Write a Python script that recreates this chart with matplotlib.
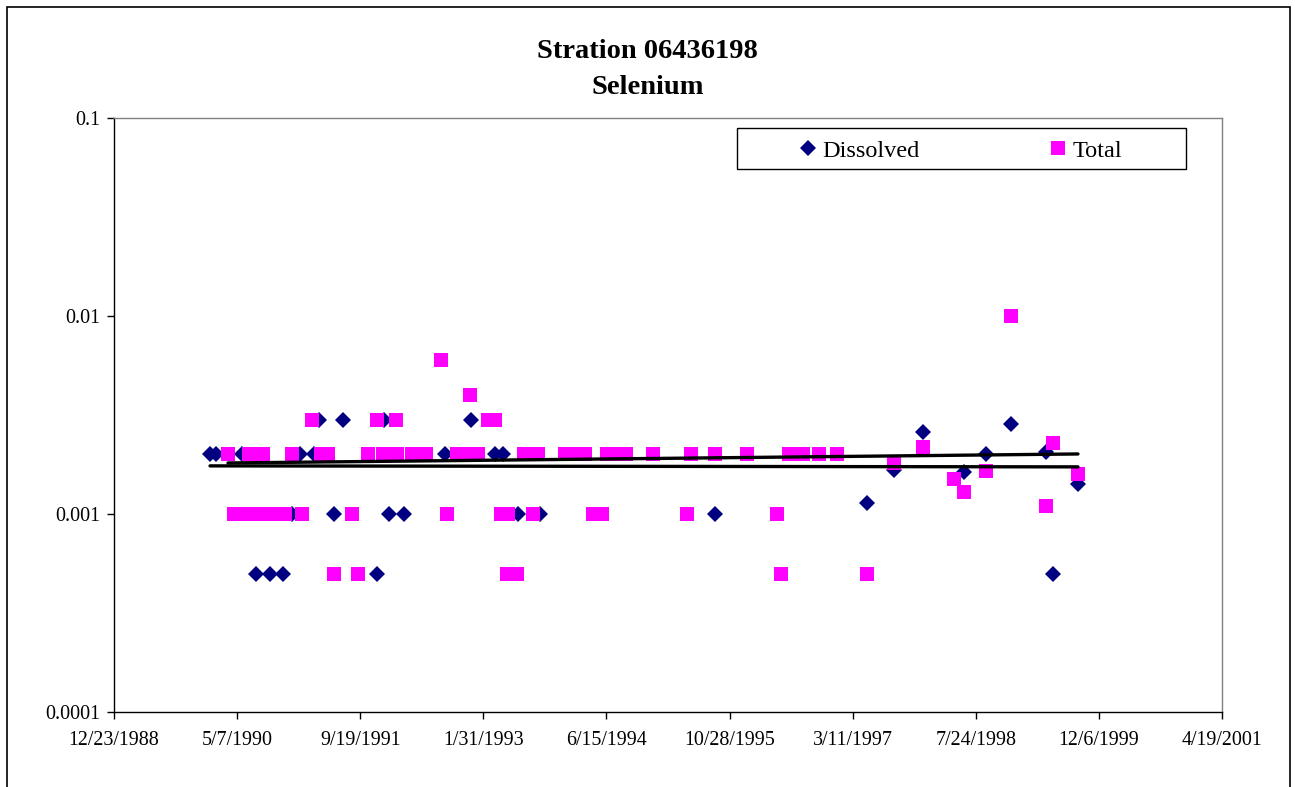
import matplotlib
matplotlib.use("Agg")
import matplotlib.pyplot as plt
import matplotlib.dates as mdates
from matplotlib.ticker import FixedLocator, FuncFormatter, NullLocator
from matplotlib.patches import Rectangle
from datetime import date, timedelta

# ---- selenium concentrations, station 06436198 ----
dissolved_dates = [
    "1990-01-17", "1990-02-10", "1990-05-27", "1990-07-23", "1990-09-18",
    "1990-11-09", "1990-12-16", "1991-01-17", "1991-03-15", "1991-04-05",
    "1991-06-04", "1991-07-11", "1991-11-26", "1991-12-25", "1992-01-14",
    "1992-03-15", "1992-08-28", "1992-12-12", "1993-03-19", "1993-04-21",
    "1993-06-21", "1993-09-18", "1995-08-30", "1997-05-08", "1997-08-26",
    "1997-12-22", "1998-06-06", "1998-09-03", "1998-12-14", "1999-05-05",
    "1999-06-03", "1999-09-12",
]
dissolved_values = [
    0.002, 0.002, 0.002, 0.0005, 0.0005,
    0.0005, 0.001, 0.002, 0.002, 0.003,
    0.001, 0.003, 0.0005, 0.003, 0.001,
    0.001, 0.002, 0.003, 0.002, 0.002,
    0.001, 0.001, 0.001, 0.00114, 0.00167,
    0.0026, 0.00163, 0.002, 0.00285, 0.00206,
    0.0005, 0.00142,
]

total_dates = [
    "1990-03-31", "1990-04-24", "1990-06-16", "1990-06-24", "1990-08-08",
    "1990-08-20", "1990-09-26", "1990-11-17", "1990-12-16", "1991-01-25",
    "1991-03-07", "1991-04-13", "1991-05-11", "1991-06-04", "1991-08-16",
    "1991-09-10", "1991-10-21", "1991-11-26", "1991-12-21", "1992-02-11",
    "1992-02-15", "1992-04-16", "1992-06-12", "1992-08-12", "1992-09-05",
    "1992-10-16", "1992-11-30", "1992-12-08", "1993-01-09", "1993-02-19",
    "1993-03-19", "1993-04-13", "1993-05-07", "1993-05-11", "1993-06-17",
    "1993-07-15", "1993-08-21", "1993-09-10", "1993-12-29", "1994-02-07",
    "1994-03-20", "1994-04-21", "1994-05-28", "1994-06-17", "1994-07-24",
    "1994-09-02", "1994-12-21", "1995-05-08", "1995-05-24", "1995-08-30",
    "1996-01-07", "1996-05-08", "1996-05-24", "1996-06-25", "1996-08-21",
    "1996-10-25", "1997-01-06", "1997-05-08", "1997-08-26", "1997-12-22",
    "1998-04-27", "1998-06-06", "1998-09-03", "1998-12-14", "1999-05-05",
    "1999-06-03", "1999-09-12",
]
total_values = [
    0.002, 0.001, 0.001, 0.002, 0.001,
    0.002, 0.001, 0.001, 0.002, 0.001,
    0.003, 0.002, 0.002, 0.0005, 0.001,
    0.0005, 0.002, 0.003, 0.002, 0.003,
    0.002, 0.002, 0.002, 0.006, 0.001,
    0.002, 0.002, 0.004, 0.002, 0.003,
    0.003, 0.001, 0.0005, 0.001, 0.0005,
    0.002, 0.001, 0.002, 0.002, 0.002,
    0.002, 0.001, 0.001, 0.002, 0.002,
    0.002, 0.002, 0.001, 0.002, 0.002,
    0.002, 0.001, 0.0005, 0.002, 0.002,
    0.002, 0.002, 0.0005, 0.0018, 0.00218,
    0.0015, 0.00129, 0.00165, 0.01, 0.0011,
    0.00228, 0.0016,
]

# trend lines: value at the first and last sample of each series
dissolved_trend_dates = ["1990-01-17", "1999-09-12"]
dissolved_trend_values = [0.00175, 0.00173]
total_trend_dates = ["1990-03-31", "1999-09-12"]
total_trend_values = [0.00181, 0.00201]

x_axis_start = date(1988, 12, 23)
x_tick_step_days = 500
x_tick_count = 10
y_ticks = [0.0001, 0.001, 0.01, 0.1]

title_text = "Stration 06436198\nSelenium"

# ---- figure ----
plt.rcParams["font.family"] = ["Liberation Serif", "DejaVu Serif"]

W, H = 1295, 787
fig = plt.figure(figsize=(W / 100, H / 100), dpi=100)
ax = fig.add_axes([114 / W, 75 / H, 1108 / W, 594 / H])


def to_num(strings):
    return mdates.date2num([date.fromisoformat(s) for s in strings])


ax.plot(to_num(dissolved_dates), dissolved_values, ls="none", marker="D",
        ms=7.9, color="#000080", mew=0, zorder=3, label="Dissolved")
ax.plot(to_num(total_dates), total_values, ls="none", marker="s", ms=10.4,
        color="#FF00FF", mew=0, zorder=4, label="Total")

for tdates, tvals in ((dissolved_trend_dates, dissolved_trend_values),
                      (total_trend_dates, total_trend_values)):
    ax.plot(to_num(tdates), tvals, color="black", lw=2.4, zorder=5,
            solid_capstyle="round")

# y axis (log)
ax.set_yscale("log")
ax.set_ylim(y_ticks[0], y_ticks[-1])
ax.yaxis.set_major_locator(FixedLocator(y_ticks))
ax.yaxis.set_minor_locator(NullLocator())
ax.yaxis.set_major_formatter(FuncFormatter(lambda v, _: f"{v:g}"))

# x axis (dates)
x_tick_dates = [x_axis_start + timedelta(days=x_tick_step_days * i)
                for i in range(x_tick_count)]
x_tick_nums = mdates.date2num(x_tick_dates)
ax.set_xlim(x_tick_nums[0], x_tick_nums[-1])
ax.xaxis.set_major_locator(FixedLocator(x_tick_nums))
ax.xaxis.set_minor_locator(NullLocator())


def fmt_date(v, _):
    d = mdates.num2date(v)
    return f"{d.month}/{d.day}/{d.year}"


ax.xaxis.set_major_formatter(FuncFormatter(fmt_date))

ax.tick_params(axis="both", which="major", direction="out", length=5,
               width=1, color="black", labelsize=14.4, labelcolor="black")
ax.tick_params(axis="x", pad=9)
ax.tick_params(axis="y", pad=5)

for side in ("left", "bottom"):
    ax.spines[side].set_color("black")
    ax.spines[side].set_linewidth(1.0)
for side in ("top", "right"):
    ax.spines[side].set_color("#808080")
    ax.spines[side].set_linewidth(1.0)

# legend box and entries
box = Rectangle((0.5623, 0.9141), 0.4052, 0.0691, transform=ax.transAxes,
                facecolor="white", edgecolor="black", lw=1.0, zorder=6)
ax.add_patch(box)
leg = ax.legend(loc="center left", bbox_to_anchor=(0.6198, 0.9445), ncol=2,
                frameon=False, fontsize=17.5, handlelength=0.6,
                handletextpad=0.3, columnspacing=5.37, borderpad=0,
                borderaxespad=0)
leg.set_zorder(7)

# title
fig.text(0.5, 1 - 69.5 / H, title_text, ha="center", va="center",
         fontsize=20.5, fontweight="bold", linespacing=1.6)

# outer chart border
fig.add_artist(Rectangle((7 / W, -0.05), (1290 - 7) / W, 1.05 - 7 / H,
                         transform=fig.transFigure, fill=False,
                         edgecolor="black", lw=1.2))

fig.savefig("out.png", dpi=100)
